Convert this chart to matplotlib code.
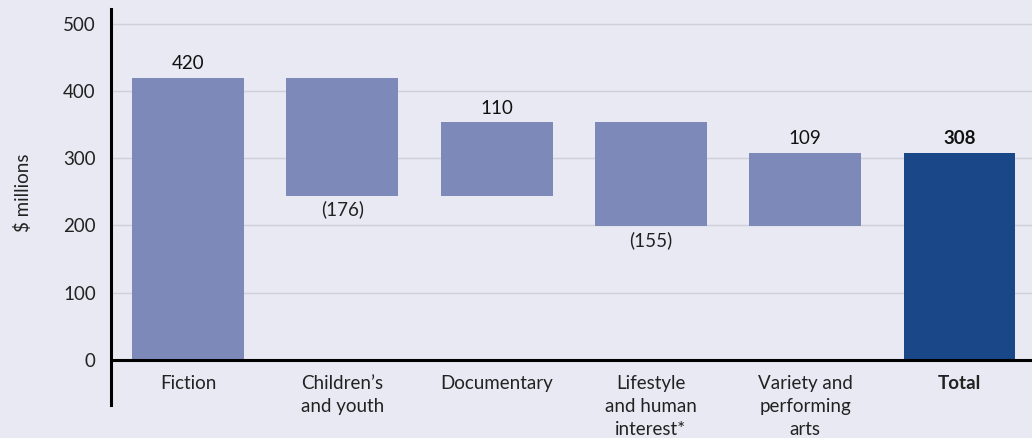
import matplotlib
matplotlib.use("Agg")
import matplotlib.pyplot as plt
import numpy as np

categories = ["Fiction", "Children\u2019s\nand youth", "Documentary",
              "Lifestyle\nand human\ninterest*", "Variety and\nperforming\narts", "Total"]
deltas = [420, -176, 110, -155, 109]
total = 308
labels = ["420", "(176)", "110", "(155)", "109", "308"]

BG = "#e9e9f3"
BAR = "#7d8ab9"
TOT = "#1a4788"
plt.rcParams['font.family'] = ['Lato', 'DejaVu Sans']

fig = plt.figure(figsize=(10.32, 4.38), dpi=100, facecolor=BG)
ax = fig.add_axes([111/1032, 1-405/438, (1032-111)/1032, (405-9)/438], facecolor=BG)

x = np.arange(len(categories))
bottoms, heights = [], []
cum = 0
for d in deltas:
    start = cum
    cum += d
    bottoms.append(min(start, cum))
    heights.append(abs(d))
bottoms.append(0)
heights.append(total)
colors = [BAR] * len(deltas) + [TOT]
w = 0.725
ax.bar(x, heights, bottom=bottoms, width=w, color=colors, zorder=3)

for i in range(len(categories)):
    if i < len(deltas) and deltas[i] < 0:
        ax.text(x[i], bottoms[i] - 7, labels[i], ha="center", va="top", fontsize=13.5, color="#222222")
    else:
        ax.text(x[i], bottoms[i] + heights[i] + 8, labels[i], ha="center", va="bottom",
                fontsize=13.5, color="#111111", fontweight="bold" if i == len(deltas) else "normal")

ax.set_ylim(-67, 522)
ax.set_xlim(-0.5, 5.47)
ax.set_yticks([0, 100, 200, 300, 400, 500])
ax.set_yticklabels(["0", "100", "200", "300", "400", "500"], fontsize=13.5, color="#222222")
ax.tick_params(axis="y", length=0, pad=11)
ax.set_xticks([])
for yv in [100, 200, 300, 400, 500]:
    ax.axhline(yv, color="#cfcfd9", lw=1, zorder=1)
ax.axhline(0, color="black", lw=2.2, zorder=4)
for s in ["top", "right", "bottom"]:
    ax.spines[s].set_visible(False)
ax.spines["left"].set_linewidth(2.2)
ax.spines["left"].set_color("black")
ax.spines["left"].set_zorder(5)

for i, c in enumerate(categories):
    ax.text(x[i], -22, c, ha="center", va="top", fontsize=13.5, color="#222222",
            linespacing=1.45, fontweight="bold" if i == len(categories) - 1 else "normal")

fig.text(23/1032, 1-193/438, "$ millions", rotation=90, ha="center", va="center",
         fontsize=13.5, color="#222222")

fig.savefig("out.png", dpi=100, facecolor=BG)
